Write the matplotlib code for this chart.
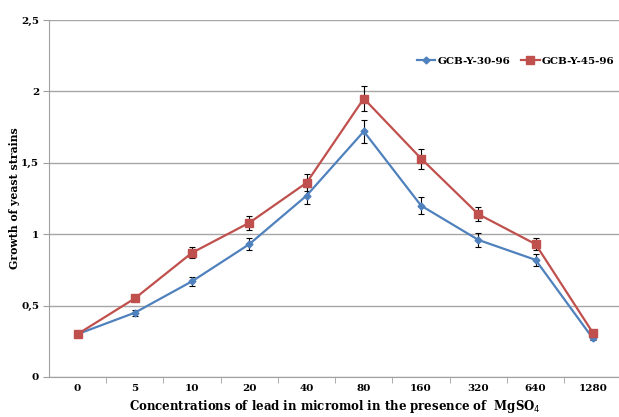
import numpy as np
import matplotlib.pyplot as plt
from matplotlib.ticker import FixedLocator

# data
concentrations = ['0', '5', '10', '20', '40', '80', '160', '320', '640', '1280']
strain_30 = [0.30, 0.45, 0.67, 0.93, 1.27, 1.72, 1.20, 0.96, 0.82, 0.27]
err_30 = [0.00, 0.02, 0.03, 0.04, 0.06, 0.08, 0.06, 0.05, 0.04, 0.01]
strain_45 = [0.30, 0.55, 0.87, 1.08, 1.36, 1.95, 1.53, 1.14, 0.93, 0.31]
err_45 = [0.00, 0.02, 0.04, 0.05, 0.06, 0.09, 0.07, 0.05, 0.04, 0.01]
y_ticks = [0, 0.5, 1, 1.5, 2, 2.5]
y_labels = ['0', '0,5', '1', '1,5', '2', '2,5']

plt.rcParams['font.family'] = ['DejaVu Serif']
fig = plt.figure(figsize=(6.19, 4.17), dpi=100)
ax = fig.add_axes([0.079, 0.096, 0.925, 0.856])

x = np.arange(len(concentrations))
e1 = ax.errorbar(x, strain_30, yerr=err_30, color='#4f81bd', marker='D', markersize=3.5,
                 linewidth=1.6, ecolor='black', elinewidth=0.8, capsize=2.5, capthick=0.8,
                 zorder=3)
e2 = ax.errorbar(x, strain_45, yerr=err_45, color='#c0504d', marker='s', markersize=5.5,
                 linewidth=1.6, ecolor='black', elinewidth=0.8, capsize=2.5, capthick=0.8,
                 zorder=3)

ax.set_xlim(-0.5, len(concentrations) - 0.5)
ax.set_ylim(0, 2.5)
ax.set_xticks(x)
ax.set_xticklabels(concentrations, fontsize=7.5, fontweight='bold')
ax.xaxis.set_minor_locator(FixedLocator(x[:-1] + 0.5))
ax.tick_params(axis='x', which='major', length=0, pad=5)
ax.tick_params(axis='x', which='minor', length=4, color='#a0a0a0')
ax.set_yticks(y_ticks)
ax.set_yticklabels(y_labels, fontsize=7.5, fontweight='bold')
ax.tick_params(axis='y', length=4, color='#a0a0a0', pad=3)

ax.yaxis.grid(True, color='#a6a6a6', linewidth=1)
ax.set_axisbelow(True)
for s in ['top', 'right']:
    ax.spines[s].set_visible(False)
for s in ['left', 'bottom']:
    ax.spines[s].set_color('#a0a0a0')

ax.set_ylabel('Growth of yeast strains', fontsize=7.8, fontweight='bold')
ax.yaxis.set_label_coords(-0.05, 0.5)
ax.set_xlabel('Concentrations of lead in micromol in the presence of  MgSO$_4$',
              fontsize=8.5, fontweight='bold', labelpad=4)

ax.legend([e1[0], e2[0]], ['GCB-Y-30-96', 'GCB-Y-45-96'], loc='center',
          bbox_to_anchor=(0.815, 0.885), ncol=2, frameon=False,
          prop={'size': 7.5, 'weight': 'bold'}, handlelength=1.8,
          handletextpad=0.2, columnspacing=1.0)

fig.savefig('out.png', dpi=100)
